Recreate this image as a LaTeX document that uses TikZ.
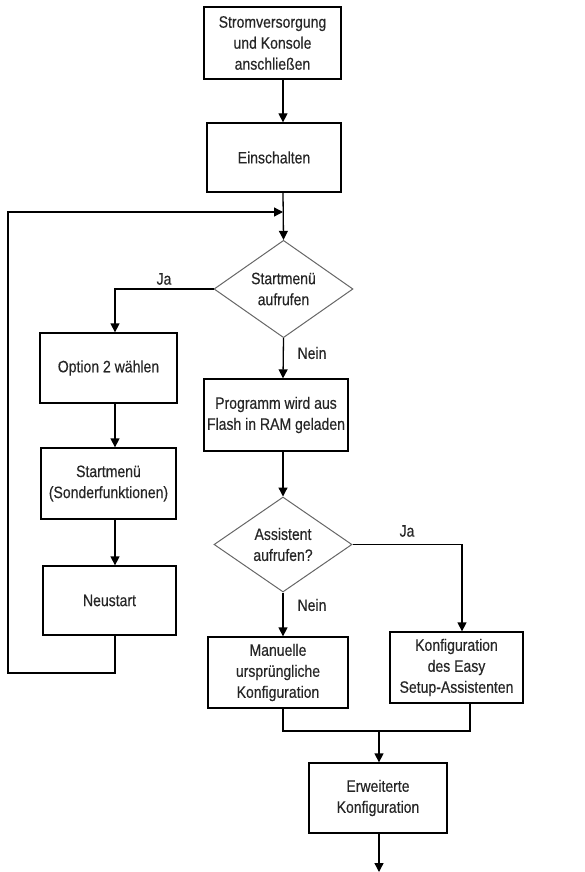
\documentclass[tikz,border=0pt]{standalone}
\usepackage{fontspec}
\setmainfont{Liberation Sans}[FakeStretch=0.85,FakeBold=0.4]
\usetikzlibrary{shapes.geometric,arrows.meta,calc}
\begin{document}
\begin{tikzpicture}[x=1pt,y=-1pt,
  every node/.style={font=\fontsize{16.5}{21}\selectfont,text=black!85},
  box/.style={draw=black,line width=1.3pt,rectangle,align=center,inner sep=2pt},
  dia/.style={draw=black!60,line width=1pt,diamond,align=center,inner sep=0pt},
  lbl/.style={inner sep=0pt},
  arr/.style={line width=1.3pt,-{Triangle[length=9pt,width=9pt]}},
  ln/.style={line width=1.3pt}]
\useasboundingbox (0,0) rectangle (584,872);
\node[box,minimum width=137pt,minimum height=72pt] (b1) at (272.5,43) {Stromversorgung\\und Konsole\\anschließen};
\node[box,minimum width=134pt,minimum height=69pt] (b2) at (274,157.5) {Einschalten};
\node[dia,minimum width=139pt,minimum height=92pt] (d1) at (283.5,289) {Startmenü\\aufrufen};
\node[box,minimum width=137pt,minimum height=70pt] (opt) at (108.5,368) {Option 2 wählen};
\node[box,minimum width=135pt,minimum height=71pt] (sm) at (108.5,483.5) {Startmenü\\(Sonderfunktionen)};
\node[box,minimum width=133pt,minimum height=69pt] (neu) at (109.5,600.5) {Neustart};
\node[box,minimum width=144pt,minimum height=72pt] (prog) at (276,415) {Programm wird aus\\Flash in RAM geladen};
\node[dia,minimum width=138pt,minimum height=95pt] (d2) at (283,544.5) {Assistent\\aufrufen?};
\node[box,minimum width=140pt,minimum height=71pt] (man) at (278,672.5) {Manuelle\\ursprüngliche\\Konfiguration};
\node[box,minimum width=133pt,minimum height=71pt] (kon) at (456.5,667.5) {Konfiguration\\des Easy\\Setup-Assistenten};
\node[box,minimum width=138pt,minimum height=70pt] (erw) at (378,798) {Erweiterte\\Konfiguration};
\coordinate (col) at (283,0);
\coordinate (lc) at (115,0);
\coordinate (rc) at (462,0);
\coordinate (rc2) at (470,0);
\coordinate (join) at (283,212);
\coordinate (loopc) at (8,673);
\coordinate (mg) at (379,731);
\coordinate (end) at (379,872);
\node[lbl] (ja1) at (164,279) {Ja};
\node[lbl] (nein1) at (312,353) {Nein};
\node[lbl] (ja2) at (407,531) {Ja};
\node[lbl] (nein2) at (312,605) {Nein};
\draw[arr] (b1.south -| col) -- (b2.north -| col);
\draw[arr] (b2.south -| col) -- (d1.north);
\draw[arr] (neu.south -| lc) -- (lc |- loopc) -- (loopc) -- (loopc |- join) -- (join);
\draw[arr] (d1.west) -- (lc |- d1.west) -- (opt.north -| lc);
\draw[arr] (opt.south -| lc) -- (sm.north -| lc);
\draw[arr] (sm.south -| lc) -- (neu.north -| lc);
\draw[arr] (d1.south) -- (prog.north -| col);
\draw[arr] (prog.south -| col) -- (d2.north);
\draw[arr] (d2.east) -- (rc |- d2.east) -- (kon.north -| rc);
\draw[arr] (d2.south) -- (man.north -| col);
\draw[ln] (man.south -| col) -- (col |- mg) -- (rc2 |- mg) -- (kon.south -| rc2);
\draw[arr] (mg) -- (erw.north -| mg);
\draw[arr] (erw.south -| mg) -- (end);
\end{tikzpicture}
\end{document}
